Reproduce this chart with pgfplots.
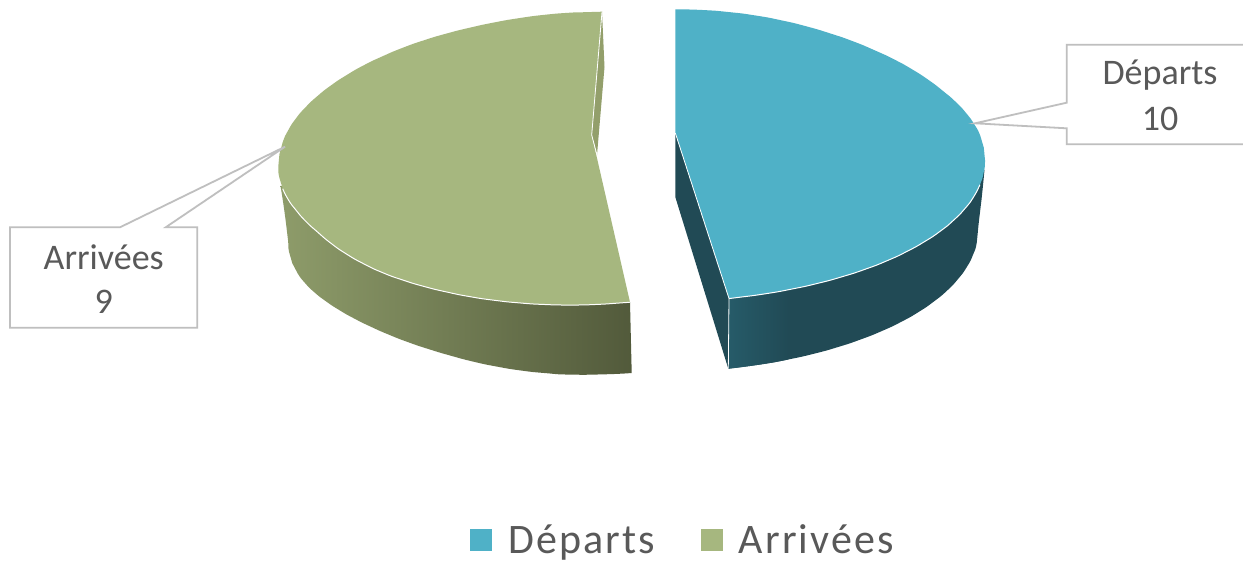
\documentclass[border=0pt]{standalone}
\usepackage{pgfplots}
\pgfplotsset{compat=1.18}
\usepackage{fontspec}
\setmainfont{Carlito}
\newfontfamily\legfont[LetterSpace=5]{Carlito}
\definecolor{bluetop}{HTML}{4FB1C7}
\definecolor{blueside}{HTML}{214A55}
\definecolor{blueedge}{HTML}{265B69}
\definecolor{greentop}{HTML}{A6B77F}
\definecolor{greenback}{HTML}{939F6B}
\definecolor{greenL}{HTML}{8E9C6A}
\definecolor{greenR}{HTML}{525A3B}
\definecolor{txt}{HTML}{595959}
\definecolor{callout}{HTML}{BFBFBF}
\begin{document}
\begin{tikzpicture}
\begin{axis}[
  scale only axis, width=1243pt, height=562pt,
  xmin=0, xmax=1243, ymin=0, ymax=562, y dir=reverse,
  hide axis, clip=true,
  legend columns=2,
  legend style={draw=none, fill=none, font=\fontsize{42}{42}\selectfont\legfont\color{txt},
    at={(axis cs:683,539.5)}, anchor=center, inner sep=0pt,
    /tikz/every even column/.append style={column sep=44pt}},
  legend cell align=left,
]
\addlegendimage{only marks, mark=square*, mark size=10.5pt, color=bluetop}
\addlegendentry{\hspace{15pt}Départs}
\addlegendimage{only marks, mark=square*, mark size=10.5pt, color=greentop}
\addlegendentry{\hspace{15pt}Arrivées}

% canvas
\addplot[draw=none, fill=white, forget plot] coordinates {(0,0) (1243,0) (1243,562) (0,562)} -- cycle;

% Green back sliver
\addplot[draw=none, fill=greenback, forget plot] coordinates {(602,11.7) (604.5,67) (597,155) (591.7,135)} -- cycle;
% Green front side
\addplot[draw=none, left color=greenL, right color=greenR, smooth, tension=1, forget plot] coordinates {
 (631.7,373) (605,374.3) (570,374.6) (545.4,373.1) (521,370.5) (497,366.6) (473.6,361.7) (450.8,355.7) (429,349.2) (408.2,342.2) (388.7,334.6) (370.6,326.6) (354,318.4) (339,309.9) (325.8,301.2) (314.4,292.3) (305,283) (297.6,273.3) (292.3,263.2) (289,251.7) (288,240) (286.2,225) (284.5,212) (282,195) (280.5,186)}
 -- (axis cs:400,180) -- (axis cs:500,200) -- (axis cs:630,302.2) -- cycle;
% Green top
\addplot[draw=none, fill=greentop, smooth, tension=1, forget plot] coordinates {
 (602,11.7) (585,12.2) (570,12.7) (544.6,14.8) (519.4,18.1) (494.5,22.4) (470.2,27.6) (446.7,33.5) (424.2,40.2) (402.7,47.8) (382.5,56.3) (363.7,65.3) (346.6,75.1) (331,85.4) (317.4,96.1) (305.6,107.2) (295.9,118.5) (288.2,130.3) (282.7,142.2) (279.4,154.3) (278.3,166.7) (279.4,177.8) (282.7,188.7) (288.2,199.5) (295.9,210) (305.6,221.1) (317.4,231.9) (331,243.3) (346.6,254.1) (363.7,263.8) (382.5,272.6) (402.7,280) (424.2,286.5) (446.7,292) (470.2,296.7) (494.5,300.3) (519.4,302.9) (544.6,304.5) (570,305) (595.4,304.5) (620.7,302.9) (630,302.2)}
 -- (axis cs:591.7,135) -- cycle;
\addplot[white, line width=1pt, smooth, tension=1, forget plot] coordinates {(282.7,188.7) (288.2,199.5) (295.9,210) (305.6,221.1) (317.4,231.9) (331,243.3) (346.6,254.1) (363.7,263.8) (382.5,272.6) (402.7,280) (424.2,286.5) (446.7,292) (470.2,296.7) (494.5,300.3) (519.4,302.9) (544.6,304.5) (570,305) (595.4,304.5) (620.7,302.9) (630,302.2)};
\addplot[white, line width=0.8pt, forget plot] coordinates {(602,12) (591.7,135) (597,155)};

% Blue inner side
\addplot[draw=none, fill=blueside, forget plot] coordinates {(675.3,133) (729,298) (728.3,368.7) (675.3,197)} -- cycle;
% Blue front side
\addplot[draw=none, fill=blueside, smooth, tension=1, forget plot] coordinates {
 (728.3,368.7) (762.2,364.2) (788.6,359.4) (814,353.7) (838.1,347) (860.8,339.4) (881.9,331) (901.3,321.8) (918.7,311.9) (934,301.4) (947.3,290.4) (958.2,278.8) (966.8,267) (973,254.8) (976.8,242.4) (978.5,225) (980.5,208) (982,195) (984.5,170)}
 -- (axis cs:900,150) -- (axis cs:729,298) -- cycle;
\addplot[draw=none, left color=blueedge, right color=blueside, smooth, tension=1, forget plot] coordinates {(788.6,359.4) (762.2,364.2) (728.3,368.7)} -- (axis cs:729,298) -- (axis cs:788.6,270) -- cycle;
% Blue top
\addplot[draw=none, fill=bluetop, smooth, tension=1, forget plot] coordinates {
 (675.3,9.3) (702.3,10) (729.1,12.1) (755.5,15.5) (781.2,20.3) (806.2,26.3) (830.1,33.4) (853,41.3) (874.4,50.2) (894.3,59.5) (912.5,69.6) (929,80.3) (943.5,91.4) (956,102.2) (966.3,113.3) (974.4,124.5) (980.3,135.8) (983.8,147.7) (985,160) (983.7,172.4) (979.9,184.7) (973.6,196.9) (964.8,208.7) (953.6,220.2) (940.1,231.3) (924.4,241.7) (906.6,251.6) (886.9,260.8) (865.3,269.2) (842.2,276.7) (817.5,283.4) (791.6,289.1) (764.6,293.9) (736.7,297.6) (729,298.5)}
 -- (axis cs:675.3,133) -- cycle;
\addplot[white, line width=1pt, smooth, tension=1, forget plot] coordinates {(729,298.5) (736.7,297.6) (764.6,293.9) (791.6,289.1) (817.5,283.4) (842.2,276.7) (865.3,269.2) (886.9,260.8) (906.6,251.6) (924.4,241.7) (940.1,231.3) (953.6,220.2) (964.8,208.7) (973.6,196.9) (979.9,184.7)};
\addplot[white, line width=0.8pt, forget plot] coordinates {(675.3,133) (729,298.5) (728.3,368.7)};

% Callouts
\addplot[callout, fill=white, line width=1.8pt, forget plot] coordinates {(1066.7,44.7) (1260,44.7) (1260,144.3) (1066.7,144.3) (1066.7,128.3) (975,123.3) (1066.7,102.7)} -- cycle;
\addplot[callout, fill=white, line width=1.8pt, forget plot] coordinates {(10,227.3) (120,227.3) (285,146.7) (165.7,227.3) (197.3,227.3) (197.3,327.7) (10,327.7)} -- cycle;

\node[text=txt, font=\fontsize{36}{36}\selectfont] at (axis cs:1160,75.5) {Départs};
\node[text=txt, font=\fontsize{36}{36}\selectfont] at (axis cs:1160,119) {10};
\node[text=txt, font=\fontsize{36}{36}\selectfont] at (axis cs:103.7,257) {Arrivées};
\node[text=txt, font=\fontsize{36}{36}\selectfont] at (axis cs:103.7,302) {9};
\end{axis}
\end{tikzpicture}
\end{document}
